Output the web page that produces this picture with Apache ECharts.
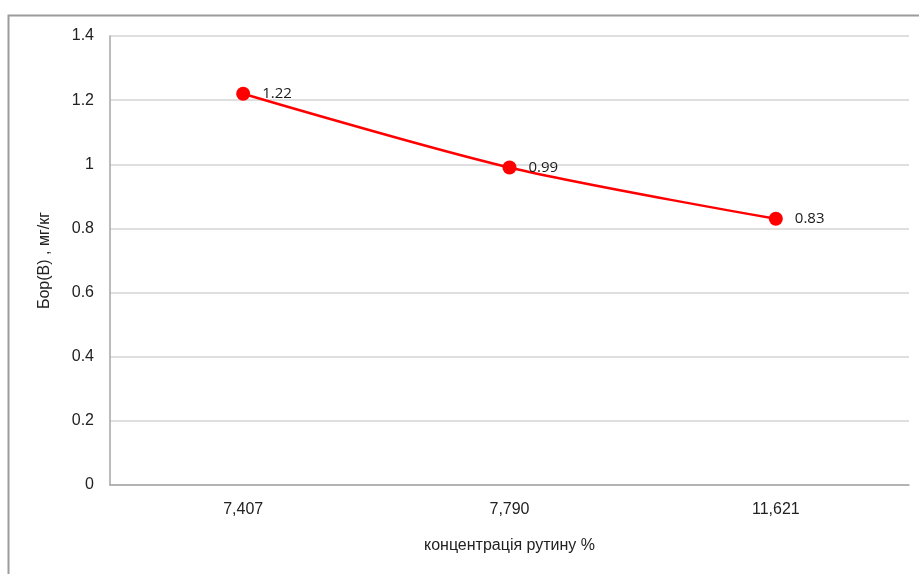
<!DOCTYPE html>
<html>
<head>
<meta charset="utf-8">
<script src="https://cdn.jsdelivr.net/npm/echarts@6/dist/echarts.min.js"></script>
<style>
  html, body { margin: 0; padding: 0; background: #fff; }
  #chart { width: 919px; height: 574px; }
</style>
</head>
<body>
<div id="chart"></div>
<script>
// Concentration categories (x axis) and boron content values
const categories = ['7,407', '7,790', '11,621'];
const boronValues = [1.22, 0.99, 0.83];
const yTicks = { min: 0, max: 1.4, interval: 0.2 };

const chart = echarts.init(document.getElementById('chart'), null, { renderer: 'canvas' });

chart.setOption({
  animation: false,
  backgroundColor: '#fff',
  graphic: [{
    type: 'rect',
    shape: { x: 8.5, y: 15.5, width: 1200, height: 1200 },
    style: { fill: 'none', stroke: '#9c9c9c', lineWidth: 2 },
    silent: true
  }],
  grid: { left: 110, right: 10, top: 36, bottom: 89, containLabel: false },
  xAxis: {
    type: 'category',
    data: categories,
    boundaryGap: true,
    name: 'концентрація рутину %',
    nameLocation: 'middle',
    nameGap: 53,
    nameTextStyle: { fontFamily: 'Liberation Sans, Arial', fontSize: 16, color: '#222' },
    axisLine: { lineStyle: { color: '#a6a6a6', width: 1.5 } },
    axisTick: { show: false },
    axisLabel: { fontFamily: 'Liberation Sans, Arial', fontSize: 16, color: '#222', margin: 17 }
  },
  yAxis: {
    type: 'value',
    min: yTicks.min,
    max: yTicks.max,
    interval: yTicks.interval,
    name: 'Бор(В) , мг/кг',
    nameLocation: 'middle',
    nameGap: 57,
    nameRotate: 90,
    nameTextStyle: { fontFamily: 'Liberation Sans, Arial', fontSize: 16, color: '#222' },
    axisLine: { show: true, lineStyle: { color: '#a6a6a6', width: 1.5 } },
    axisTick: { show: false },
    axisLabel: {
      fontFamily: 'Liberation Sans, Arial', fontSize: 16, color: '#222', margin: 16,
      formatter: v => String(Math.round(v * 10) / 10)
    },
    splitLine: { lineStyle: { color: '#d4d4d4', width: 1.5 } }
  },
  series: [{
    type: 'line',
    data: boronValues,
    smooth: 0.3,
    symbol: 'circle',
    symbolSize: 14,
    lineStyle: { color: '#ff0000', width: 2.5 },
    itemStyle: { color: '#ff0000' },
    label: {
      show: true,
      position: 'right',
      distance: 12,
      fontFamily: 'Open Sans, Liberation Sans, Arial',
      fontSize: 15,
      color: '#1a1a1a',
      formatter: p => p.value.toFixed(2)
    }
  }]
});
</script>
</body>
</html>
